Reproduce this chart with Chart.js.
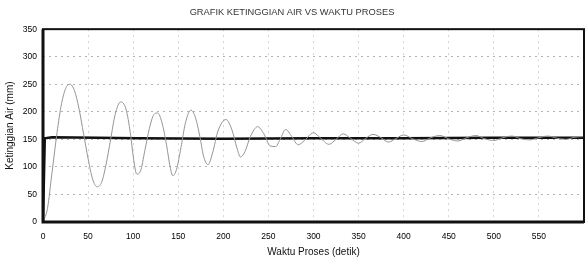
<!DOCTYPE html>
<html>
<head>
<meta charset="utf-8">
<script src="https://cdn.jsdelivr.net/npm/chart.js@4"></script>
<style>
  body { margin: 0; background: #fff; }
  canvas { display: block; }
</style>
</head>
<body>
<canvas id="grafik" width="585" height="260"></canvas>
<script>
// waktu (detik) dan ketinggian air (mm) - respon level (garis abu-abu)
var waktuRespon = [0, 5, 10, 15, 20, 25, 30, 35, 40, 45, 50, 55, 60, 65, 70, 75, 80, 86, 92, 97,
    100, 104, 108, 113, 118, 123, 127, 132, 137, 141, 144, 148, 153, 158, 164, 169, 174, 178, 183, 188,
    194, 203, 210, 215, 219, 224, 230, 238, 245, 252, 258, 263, 269, 276, 283, 290, 300, 308, 317, 325,
    333, 341, 350, 358, 366, 375, 383, 392, 400, 410, 420, 430, 440, 450, 460, 470, 480, 490, 500, 510,
    520, 530, 540, 550, 560, 570, 580, 590, 600];
var tinggiRespon = [0, 25, 90, 155, 210, 242, 250, 238, 205, 160, 115, 78, 64, 72, 105, 150, 195, 218, 205, 160,
    120, 87, 92, 130, 170, 195, 198, 180, 140, 100, 84, 95, 135, 180, 203, 190, 155, 120, 104, 125,
    165, 186, 165, 135, 118, 128, 155, 173, 160, 138, 137, 150, 168, 155, 140, 148, 162, 152, 141, 150,
    160, 152, 143, 152, 159, 153, 145, 152, 158, 151, 146, 153, 157, 151, 147, 153, 157, 151, 148, 153,
    156, 151, 149, 153, 156, 152, 150, 154, 155];

// set point (garis hitam)
var waktuSetPoint = [0, 2, 10, 60, 105, 200, 300, 400, 500, 600];
var tinggiSetPoint = [0, 152, 154, 153, 152, 151, 152, 152, 153, 153];

var tickX = [0, 50, 100, 150, 200, 250, 300, 350, 400, 450, 500, 550];

function jadiTitik(xs, ys) {
    var hasil = [];
    for (var i = 0; i < xs.length; i++) {
        hasil.push({x: xs[i], y: ys[i]});
    }
    return hasil;
}

// bingkai hitam di sekeliling area grafik
var bingkai = {
    id: 'bingkai',
    afterDraw: function(chart) {
        var a = chart.chartArea;
        var ctx = chart.ctx;
        ctx.save();
        ctx.strokeStyle = '#111';
        ctx.lineWidth = 2;
        ctx.strokeRect(a.left, a.top, a.right - a.left, a.bottom - a.top);
        ctx.lineWidth = 3;
        ctx.beginPath();
        ctx.moveTo(a.left, a.top);
        ctx.lineTo(a.left, a.bottom);
        ctx.lineTo(a.right, a.bottom);
        ctx.stroke();
        ctx.restore();
    }
};

var hurufKecil = {family: 'Liberation Sans Narrow, Liberation Sans', size: 8.5};

new Chart(document.getElementById('grafik'), {
    type: 'line',
    data: {
        datasets: [{
            data: jadiTitik(waktuRespon, tinggiRespon),
            borderColor: '#959595',
            borderWidth: 1,
            pointRadius: 0,
            cubicInterpolationMode: 'monotone'
        }, {
            data: jadiTitik(waktuSetPoint, tinggiSetPoint),
            borderColor: '#111',
            borderWidth: 2.5,
            pointRadius: 0,
            tension: 0
        }]
    },
    options: {
        responsive: false,
        animation: false,
        layout: {padding: {right: 1, left: 0, bottom: 0}},
        plugins: {
            legend: {display: false},
            tooltip: {enabled: false},
            title: {
                display: true,
                text: 'GRAFIK KETINGGIAN AIR VS WAKTU PROSES',
                color: '#333',
                font: {family: 'Liberation Sans', size: 9.3, weight: 'normal'},
                padding: {top: 7, bottom: 11}
            }
        },
        scales: {
            x: {
                type: 'linear',
                min: 0,
                max: 600,
                afterFit: function(s) { s.height = 38; },
                afterBuildTicks: function(s) {
                    s.ticks = tickX.map(function(v) { return {value: v}; });
                },
                ticks: {
                    color: '#000',
                    padding: 10,
                    maxRotation: 0,
                    font: hurufKecil
                },
                grid: {color: '#d4d4d4', drawTicks: false},
                border: {display: false, dash: [2, 4]},
                title: {
                    display: true,
                    text: 'Waktu Proses (detik)',
                    color: '#111',
                    font: {family: 'Liberation Sans Narrow, Liberation Sans', size: 10},
                    padding: {top: 0, bottom: 2}
                }
            },
            y: {
                min: 0,
                max: 350,
                afterFit: function(s) { s.width = 43; },
                ticks: {
                    stepSize: 50,
                    color: '#000',
                    padding: 6,
                    font: hurufKecil
                },
                grid: {color: '#b4b4b4', drawTicks: false},
                border: {display: false, dash: [2, 4]},
                title: {
                    display: true,
                    text: 'Ketinggian Air (mm)',
                    color: '#111',
                    font: {family: 'Liberation Sans Narrow, Liberation Sans', size: 10},
                    padding: {top: 4, bottom: 2}
                }
            }
        }
    },
    plugins: [bingkai]
});
</script>
</body>
</html>
